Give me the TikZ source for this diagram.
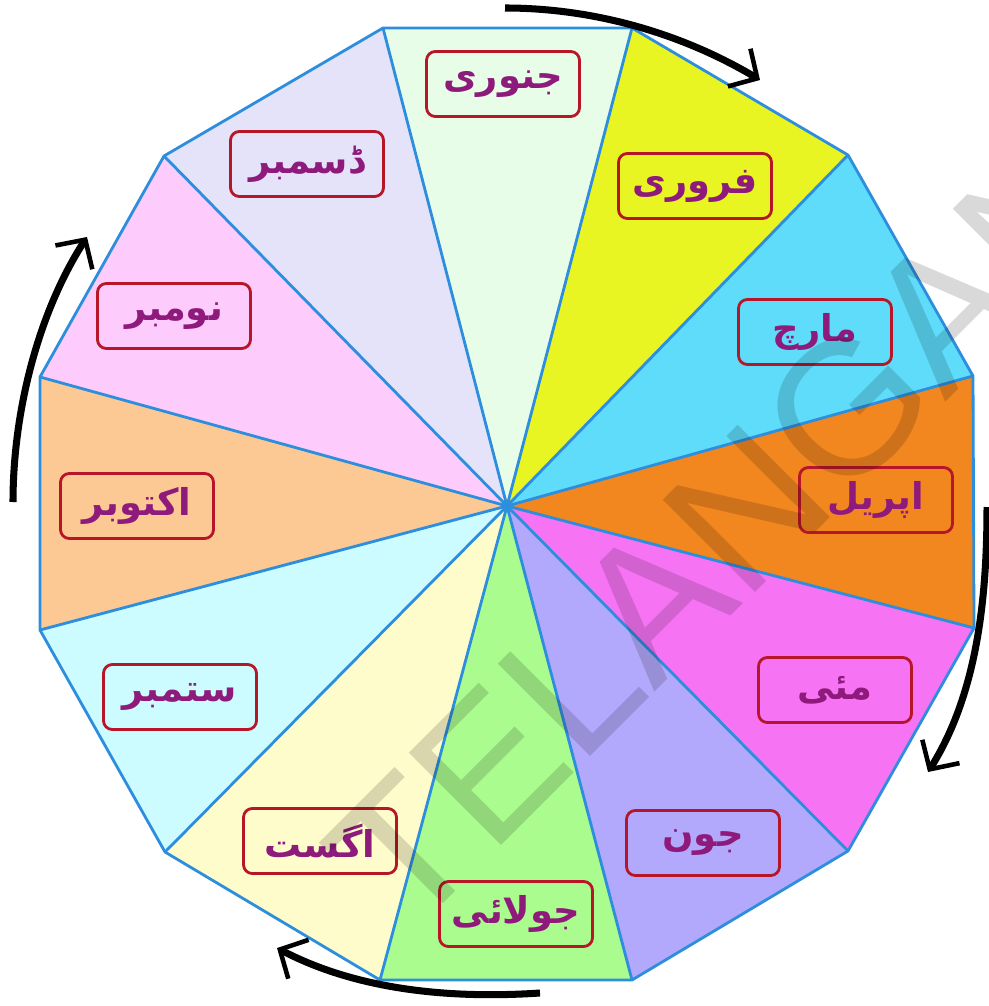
\documentclass[tikz,border=0pt]{standalone}
\usepackage{fontspec}
\usetikzlibrary{arrows.meta}
\setmainfont{Liberation Sans}
\newfontfamily\urdufont[Script=Arabic]{DejaVu Sans}
\TeXXeTstate=1

\definecolor{edgeblue}{RGB}{46,142,222}
\definecolor{boxred}{RGB}{182,22,40}
\definecolor{monthtext}{RGB}{142,26,123}
\definecolor{janfill}{RGB}{232,253,232}
\definecolor{febfill}{RGB}{232,245,34}
\definecolor{marfill}{RGB}{94,220,250}
\definecolor{aprfill}{RGB}{242,134,31}
\definecolor{mayfill}{RGB}{246,116,244}
\definecolor{junfill}{RGB}{179,169,252}
\definecolor{julfill}{RGB}{171,252,143}
\definecolor{augfill}{RGB}{255,252,204}
\definecolor{sepfill}{RGB}{204,252,255}
\definecolor{octfill}{RGB}{252,201,149}
\definecolor{novfill}{RGB}{253,204,252}
\definecolor{decfill}{RGB}{229,227,249}

\begin{document}
\begin{tikzpicture}
  [x=0.02cm,y=-0.02cm,
   edge/.style={draw=edgeblue,line width=1.6pt,line join=round},
   month/.style={draw=boxred,line width=1.6pt,rounded corners=5pt,
     minimum width=3.06cm,minimum height=1.3cm,text=monthtext,
     font=\urdufont\bfseries\fontsize{21}{24}\selectfont},
   turn/.style={line width=4pt,
     -{Straight Barb[length=12pt,width=25pt,line width=2.6pt]}}]

  \useasboundingbox (0,0) rectangle (989,1006);

  % corners of the dodecagon and its centre
  \coordinate (c) at (507,506);
  \coordinate (v0) at (383,28);
  \coordinate (v1) at (632,28);
  \coordinate (v2) at (848,155);
  \coordinate (v3) at (973,376);
  \coordinate (v4) at (974,628);
  \coordinate (v5) at (848,851);
  \coordinate (v6) at (632,980);
  \coordinate (v7) at (380,980);
  \coordinate (v8) at (165,852);
  \coordinate (v9) at (40,630);
  \coordinate (v10) at (40,377);
  \coordinate (v11) at (164,156);

  \foreach \from/\to/\col in {v0/v1/janfill, v1/v2/febfill, v2/v3/marfill,
      v3/v4/aprfill, v4/v5/mayfill, v5/v6/junfill, v6/v7/julfill,
      v7/v8/augfill, v8/v9/sepfill, v9/v10/octfill, v10/v11/novfill,
      v11/v0/decfill}
    \fill[\col] (c) -- (\from) -- (\to) -- cycle;

  \foreach \v in {v0,v1,v2,v3,v4,v5,v6,v7,v8,v9,v10,v11}
    \draw[edge] (c) -- (\v);
  \draw[edge] (v0) -- (v1) -- (v2) -- (v3) -- (v4) -- (v5) -- (v6)
    -- (v7) -- (v8) -- (v9) -- (v10) -- (v11) -- cycle;

  % month labels
  \node[month] (jan) at (503,84) {\beginR جنوری\endR};
  \node[month] (feb) at (695,186) {\beginR فروری\endR};
  \node[month] (mar) at (815,332) {\beginR مارچ\endR};
  \node[month] (apr) at (876,500) {\beginR اپریل\endR};
  \node[month] (may) at (835,690) {\beginR مئی\endR};
  \node[month] (jun) at (703,843) {\beginR جون\endR};
  \node[month] (jul) at (516,914) {\beginR جولائی\endR};
  \node[month] (aug) at (320,841) {\beginR اگست\endR};
  \node[month] (sep) at (180,697) {\beginR ستمبر\endR};
  \node[month] (oct) at (137,506) {\beginR اکتوبر\endR};
  \node[month] (nov) at (174,316) {\beginR نومبر\endR};
  \node[month] (dec) at (307,164) {\beginR ڈسمبر\endR};

  % turning arrows
  \coordinate (topA) at (505,8);
  \coordinate (topB) at (760,80);
  \coordinate (rightA) at (987,507);
  \coordinate (rightB) at (928,772);
  \coordinate (bottomA) at (540,993);
  \coordinate (bottomB) at (277,948);
  \coordinate (leftA) at (13,502);
  \coordinate (leftB) at (87,237);
  \draw[turn] (topA) .. controls (595,8) and (683,34) .. (topB);
  \draw[turn] (rightA) .. controls (987,599) and (977,694) .. (rightB);
  \draw[turn] (bottomA) .. controls (450,999) and (357,990) .. (bottomB);
  \draw[turn] (leftA) .. controls (13,412) and (38,313) .. (leftB);

  % watermark
  \clip (0,0) rectangle (989,1006);
  \node[rotate=45,anchor=west,text=black,text opacity=0.15,inner sep=0pt,
    font=\fontsize{108}{108}\selectfont] (mark) at (362,893) {TELANGANA};
\end{tikzpicture}
\end{document}
